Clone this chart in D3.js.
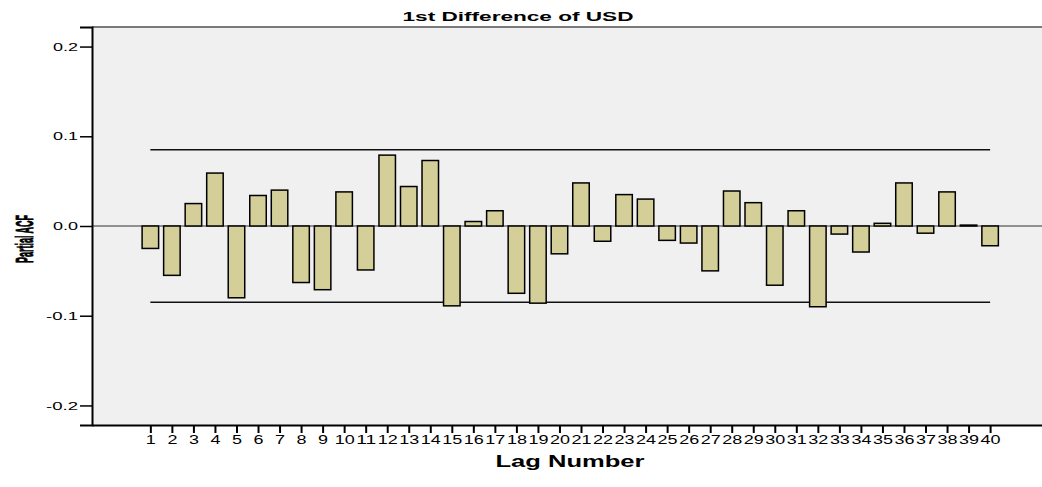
<!DOCTYPE html>
<html>
<head>
<meta charset="utf-8">
<script src="https://cdn.jsdelivr.net/npm/d3@7"></script>
<style>
  body { margin: 0; background: #fff; }
  text { font-family: "Liberation Sans", Arial, sans-serif; fill: #000; }
</style>
</head>
<body>
<div id="chart"></div>
<script>
// data
const lags = d3.range(1, 41);
const pacf = [-0.025, -0.055, 0.025, 0.059, -0.080, 0.034, 0.040, -0.063, -0.071, 0.038,
              -0.049, 0.079, 0.044, 0.073, -0.089, 0.005, 0.017, -0.075, -0.086, -0.031,
              0.048, -0.017, 0.035, 0.030, -0.016, -0.019, -0.050, 0.039, 0.026, -0.066,
              0.017, -0.090, -0.009, -0.029, 0.003, 0.048, -0.008, 0.038, 0.001, -0.022];
const confLimit = 0.085;
const yTicks = [-0.2, -0.1, 0.0, 0.1, 0.2];

const WIDTH = 1042, HEIGHT = 487;
const plot = { left: 92, right: 1042, top: 27, bottom: 425 };

const svg = d3.select("#chart").append("svg")
    .attr("width", WIDTH)
    .attr("height", HEIGHT);

// scales - lag 1 sits ~58px in from the left frame, chart is cut at the right edge
const x = d3.scaleLinear().domain([-1.71, 42.41]).range([plot.left, plot.right]);
const y = d3.scaleLinear().domain([-0.2218, 0.2218]).range([plot.bottom, plot.top]);
const barW = 16.5;

// plot background
svg.append("rect")
    .attr("x", plot.left).attr("y", plot.top)
    .attr("width", plot.right - plot.left).attr("height", plot.bottom - plot.top)
    .attr("fill", "#f0f0f0");

// zero line
svg.append("line")
    .attr("x1", plot.left).attr("x2", plot.right)
    .attr("y1", y(0)).attr("y2", y(0))
    .attr("stroke", "#333").attr("stroke-width", 1);

// confidence limits
[confLimit, -confLimit].forEach(c => {
    svg.append("line")
        .attr("x1", x(1)).attr("x2", x(40))
        .attr("y1", y(c)).attr("y2", y(c))
        .attr("stroke", "#111").attr("stroke-width", 1.3);
});

// bars
svg.selectAll(".bar")
    .data(lags.map((l, i) => ({ lag: l, v: pacf[i] })))
    .enter()
    .append("rect")
    .attr("class", "bar")
    .attr("x", d => x(d.lag) - barW / 2)
    .attr("y", d => y(Math.max(0, d.v)))
    .attr("width", barW)
    .attr("height", d => Math.max(0.5, Math.abs(y(d.v) - y(0))))
    .attr("fill", "#d4cf98")
    .attr("stroke", "#000")
    .attr("stroke-width", 1.5);

// frame: gray on top, black left and bottom
svg.append("line")
    .attr("x1", plot.left).attr("x2", plot.right)
    .attr("y1", plot.top).attr("y2", plot.top)
    .attr("stroke", "#7a7a7a").attr("stroke-width", 2);

// y axis
const yAxis = d3.axisLeft(y)
    .tickValues(yTicks)
    .tickSize(12)
    .tickPadding(2)
    .tickFormat(d => d3.format(".1f")(d).replace("\u2212", "-"));

const gy = svg.append("g")
    .attr("transform", `translate(${plot.left},0)`)
    .call(yAxis);
gy.select(".domain").attr("stroke", "#000").attr("stroke-width", 2);
gy.selectAll(".tick line").attr("stroke", "#000").attr("stroke-width", 1.5);
gy.selectAll(".tick text")
    .style("font-size", "11.5px")
    .attr("textLength", function () { return this.textContent.length === 3 ? 25 : 32; })
    .attr("lengthAdjust", "spacingAndGlyphs")
    .attr("fill", "#000");

// x axis
const xAxis = d3.axisBottom(x)
    .tickValues(lags)
    .tickSize(8)
    .tickSizeOuter(0)
    .tickPadding(2)
    .tickFormat(d3.format("d"));

const gx = svg.append("g")
    .attr("transform", `translate(0,${plot.bottom})`)
    .call(xAxis);
gx.select(".domain").attr("stroke", "#000").attr("stroke-width", 2);
gx.selectAll(".tick line").attr("stroke", "#000").attr("stroke-width", 2);
gx.selectAll(".tick text")
    .style("font-size", "12px")
    .attr("textLength", function () { return this.textContent.length * 10; })
    .attr("lengthAdjust", "spacingAndGlyphs")
    .attr("fill", "#000");

// title
svg.append("text")
    .attr("x", 518)
    .attr("y", 21)
    .attr("text-anchor", "middle")
    .attr("textLength", 231)
    .attr("lengthAdjust", "spacingAndGlyphs")
    .style("font-size", "12px")
    .style("font-weight", "bold")
    .text("1st Difference of USD");

// axis labels
svg.append("text")
    .attr("x", 570)
    .attr("y", 467)
    .attr("text-anchor", "middle")
    .attr("textLength", 149)
    .attr("lengthAdjust", "spacingAndGlyphs")
    .style("font-size", "16.5px")
    .style("font-weight", "bold")
    .text("Lag Number");

// y label is a squeezed bold font in the original, so scale it along its length
const yLab = svg.append("text")
    .attr("text-anchor", "middle")
    .style("font-size", "23px")
    .style("font-weight", "bold")
    .attr("stroke", "#000")
    .attr("stroke-width", 0.9)
    .text("Partial ACF");
const natural = yLab.node().getComputedTextLength();
yLab.attr("transform", `translate(33,239) rotate(-90) scale(${48 / natural},1)`);
</script>
</body>
</html>
